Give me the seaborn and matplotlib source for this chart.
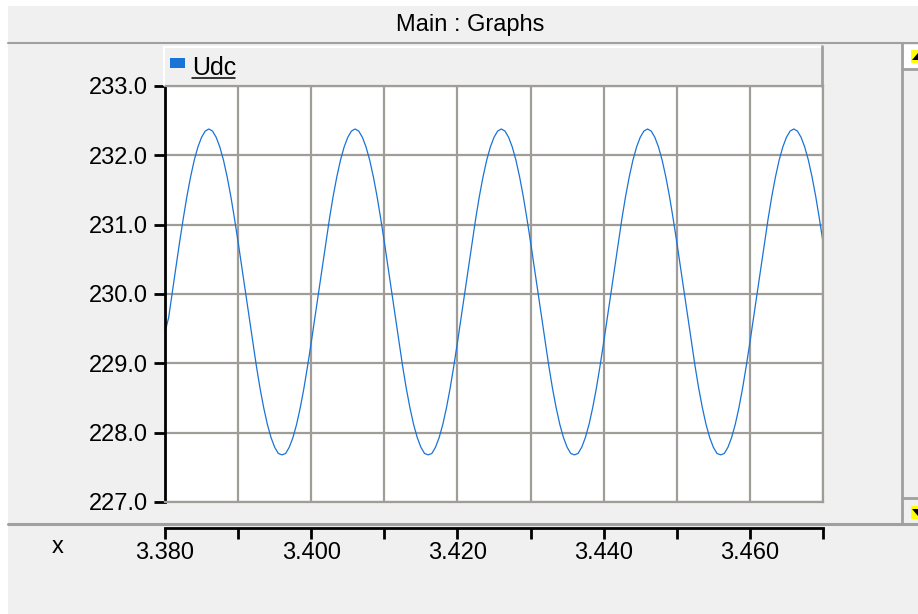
import numpy as np
import pandas as pd
import matplotlib.pyplot as plt
import seaborn as sns
from matplotlib.lines import Line2D
from matplotlib.patches import Rectangle, Polygon

# Udc samples, every 0.5 ms from t = 3.380 s
t_start = 3.380
t_step = 0.0005
udc = [
    229.45, 229.66, 230.03, 230.39, 230.75, 231.09, 231.41, 231.69, 231.93, 232.12,
    232.26, 232.35, 232.38, 232.35, 232.26, 232.12, 231.93, 231.69, 231.41, 231.09,
    230.75, 230.39, 230.03, 229.66, 229.30, 228.96, 228.64, 228.36, 228.12, 227.93,
    227.79, 227.70, 227.68, 227.70, 227.79, 227.93, 228.12, 228.36, 228.64, 228.96,
    229.30, 229.66, 230.03, 230.39, 230.75, 231.09, 231.41, 231.69, 231.93, 232.12,
    232.26, 232.35, 232.38, 232.35, 232.26, 232.12, 231.93, 231.69, 231.41, 231.09,
    230.75, 230.39, 230.03, 229.66, 229.30, 228.96, 228.64, 228.36, 228.12, 227.93,
    227.79, 227.70, 227.68, 227.70, 227.79, 227.93, 228.12, 228.36, 228.64, 228.96,
    229.30, 229.66, 230.03, 230.39, 230.75, 231.09, 231.41, 231.69, 231.93, 232.12,
    232.26, 232.35, 232.38, 232.35, 232.26, 232.12, 231.93, 231.69, 231.41, 231.09,
    230.75, 230.39, 230.03, 229.66, 229.30, 228.96, 228.64, 228.36, 228.12, 227.93,
    227.79, 227.70, 227.68, 227.70, 227.79, 227.93, 228.12, 228.36, 228.64, 228.96,
    229.30, 229.66, 230.03, 230.39, 230.75, 231.09, 231.41, 231.69, 231.93, 232.12,
    232.26, 232.35, 232.38, 232.35, 232.26, 232.12, 231.93, 231.69, 231.41, 231.09,
    230.75, 230.39, 230.03, 229.66, 229.30, 228.96, 228.64, 228.36, 228.12, 227.93,
    227.79, 227.70, 227.68, 227.70, 227.79, 227.93, 228.12, 228.36, 228.64, 228.96,
    229.30, 229.66, 230.03, 230.39, 230.75, 231.09, 231.41, 231.69, 231.93, 232.12,
    232.26, 232.35, 232.38, 232.35, 232.26, 232.12, 231.93, 231.69, 231.41, 231.09,
    230.75,
]
time = [round(t_start + i * t_step, 4) for i in range(len(udc))]

x_ticks = [3.380, 3.390, 3.400, 3.410, 3.420, 3.430, 3.440, 3.450, 3.460, 3.470]
x_labels = ["3.380", "", "3.400", "", "3.420", "", "3.440", "", "3.460", ""]
y_ticks = [227, 228, 229, 230, 231, 232, 233]
y_labels = ["227.0", "228.0", "229.0", "230.0", "231.0", "232.0", "233.0"]

df = pd.DataFrame({"x": time, "Udc": udc})

sns.set_style("white")
plt.rcParams["font.family"] = ["Liberation Sans", "DejaVu Sans"]
plt.rcParams["text.color"] = "black"
plt.rcParams["xtick.color"] = "black"
plt.rcParams["ytick.color"] = "black"

BG = "#f0f0f0"
GRID = "#a09c98"
EDGE = "#a0a0a0"
BLUE = "#1a73d6"
W, H = 918, 614


def fx(x):
    return x / W


def fy(y):
    return 1 - y / H


fig = plt.figure(figsize=(9.18, 6.14), dpi=100, facecolor=BG)

# main plot area
ax = fig.add_axes([fx(165), fy(502), fx(823) - fx(165), fy(86) - fy(502)])
ax.set_facecolor("white")
sns.lineplot(data=df, x="x", y="Udc", ax=ax, color=BLUE, lw=0.9, legend=False)
ax.set_xlim(x_ticks[0], x_ticks[-1])
ax.set_ylim(y_ticks[0], y_ticks[-1])
ax.set_xticks(x_ticks)
ax.tick_params(axis="x", bottom=False, length=0, labelbottom=False)
ax.set_yticks(y_ticks)
ax.set_yticklabels(y_labels, fontsize=17)
ax.tick_params(axis="y", left=True, length=8, width=2, color="black",
               labelcolor="black", pad=4.5)
ax.grid(True, color=GRID, lw=1.6)
ax.set_xlabel("")
ax.set_ylabel("")
for s in ["top", "right", "bottom"]:
    ax.spines[s].set_color(GRID)
    ax.spines[s].set_linewidth(1.6)
ax.spines["left"].set_color("black")
ax.spines["left"].set_linewidth(2)

# separate x axis strip below the plot
axx = fig.add_axes([fx(165), fy(528), fx(823) - fx(165), 0.0001])
axx.set_facecolor("none")
axx.set_xlim(x_ticks[0], x_ticks[-1])
axx.set_xticks(x_ticks)
axx.set_xticklabels(x_labels, fontsize=17)
axx.set_yticks([])
axx.tick_params(axis="x", bottom=True, length=8, width=2, color="black",
                labelcolor="black", pad=2, direction="out")
for s in ["top", "left", "right"]:
    axx.spines[s].set_visible(False)
axx.spines["bottom"].set_color("black")
axx.spines["bottom"].set_linewidth(2)
fig.text(fx(58), fy(547), "x", fontsize=17, ha="center", va="center")


def hline(y, x0, x1, color=EDGE, lw=1.5):
    fig.add_artist(Line2D([fx(x0), fx(x1)], [fy(y), fy(y)], color=color, lw=lw))


def vline(x, y0, y1, color=EDGE, lw=1.5):
    fig.add_artist(Line2D([fx(x), fx(x)], [fy(y0), fy(y1)], color=color, lw=lw))


# window frame
fig.add_artist(Rectangle((0, fy(6)), 1, 1 - fy(6), color="white", lw=0))
fig.add_artist(Rectangle((0, 0), fx(8), 1, color="white", lw=0))
fig.text(fx(470), fy(25), "Main : Graphs", fontsize=17, ha="center", va="center")
hline(42.5, 8, 918)
hline(524, 8, 918, lw=2.2)

# legend strip
hline(47, 164, 822, color="white", lw=1.5)
vline(164, 47, 85, color="white", lw=1.5)
vline(822, 46, 86, color=EDGE, lw=2)
fig.add_artist(Rectangle((fx(170), fy(68)), fx(185) - fx(170), fy(58) - fy(68),
                         color=BLUE, lw=0))
fig.text(fx(192), fy(75), "Udc", fontsize=18, ha="left", va="baseline")
hline(78, 192, 235, color="black", lw=1.1)

# scroll bar
vline(902, 43, 524, lw=2)
fig.add_artist(Rectangle((fx(904), fy(68)), fx(918) - fx(904), fy(45) - fy(68),
                         color="white", lw=0))
hline(69, 903, 918, lw=2)
hline(498, 903, 918, lw=2)
for y0, y1, up in [(50, 63, True), (506, 519, False)]:
    fig.add_artist(Rectangle((fx(911), fy(y1)), fx(918) - fx(911), fy(y0) - fy(y1),
                             color="#ffff00", lw=0))
    if up:
        tri = [(fx(912), fy(y1 - 3)), (fx(918), fy(y1 - 3)), (fx(918), fy(y0 + 3))]
    else:
        tri = [(fx(912), fy(y0 + 3)), (fx(918), fy(y0 + 3)), (fx(918), fy(y1 - 3))]
    fig.add_artist(Polygon(tri, closed=True, color="black", lw=0))

fig.savefig("out.png", dpi=100, facecolor=BG)
